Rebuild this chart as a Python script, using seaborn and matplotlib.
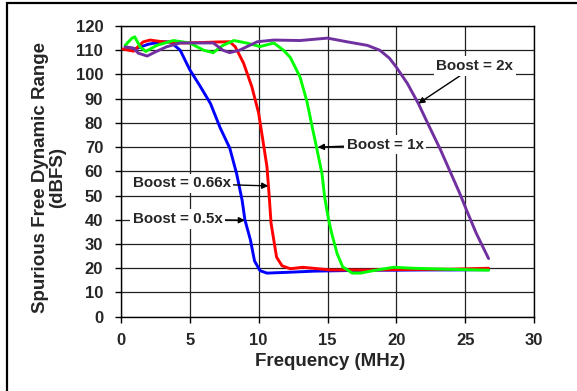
import matplotlib
matplotlib.use("Agg")
import matplotlib.pyplot as plt
from matplotlib.patches import Rectangle
import pandas as pd
import seaborn as sns

# Measured SFDR versus input frequency for each boost setting
freq_05 = [0.3, 1.0, 2.0, 3.0, 3.6, 4.3, 5.0, 5.7, 6.5, 7.2, 7.9, 8.4, 8.8, 9.0, 9.4, 9.7,
           10.1, 10.6, 12.0, 14.0, 16.0, 18.0, 20.0, 22.0, 24.0, 26.7]
sfdr_05 = [111.5, 110.5, 112.5, 113.5, 113.4, 110.0, 101.9, 95.6, 88.0, 78.0, 69.6, 59.0, 48.0,
           40.0, 31.7, 23.0, 19.0, 18.0, 18.3, 18.8, 19.0, 19.2, 19.2, 19.3, 19.3, 19.4]

freq_066 = [0.15, 0.9, 1.6, 2.1, 3.0, 4.5, 6.0, 7.0, 7.9, 8.3, 8.9, 9.5, 10.0, 10.3, 10.6,
            10.75, 10.9, 11.1, 11.3, 11.7, 12.3, 13.2, 15.2, 18.0, 21.0, 24.0, 26.7]
sfdr_066 = [110.5, 109.6, 113.4, 114.2, 113.5, 113.0, 113.2, 113.4, 113.5, 111.4, 104.7, 95.0,
            84.0, 73.0, 62.0, 51.0, 38.6, 31.6, 24.6, 21.0, 19.8, 20.4, 19.3, 19.3, 19.5, 19.6, 20.0]

freq_1 = [0.3, 0.8, 1.0, 1.4, 1.8, 2.6, 3.8, 5.0, 6.0, 6.7, 7.4, 8.2, 9.1, 10.1, 11.1, 11.8,
          12.3, 13.0, 13.5, 13.9, 14.2, 14.6, 14.8, 15.05, 15.3, 15.7, 16.1, 16.8, 17.4, 18.3,
          19.8, 21.2, 23.6, 26.7]
sfdr_1 = [112.0, 115.0, 115.5, 111.3, 109.5, 112.0, 114.0, 113.0, 110.0, 109.0, 112.0, 114.0,
          113.0, 111.5, 113.0, 110.0, 107.0, 99.0, 89.0, 78.0, 70.0, 59.0, 49.0, 41.0, 34.5,
          26.0, 20.6, 18.0, 18.0, 19.0, 20.4, 20.0, 19.6, 19.2]

freq_2 = [0.3, 0.9, 1.25, 1.9, 2.5, 3.3, 4.3, 5.7, 6.7, 7.4, 7.9, 8.6, 9.9, 11.1, 13.0, 15.0,
          16.4, 17.9, 18.8, 19.5, 20.0, 20.8, 21.6, 22.4, 23.2, 23.9, 24.6, 25.1, 25.8, 26.7]
sfdr_2 = [111.3, 110.9, 108.8, 107.6, 109.3, 111.4, 113.0, 113.0, 113.0, 110.0, 109.0, 110.0,
          113.5, 114.2, 114.0, 115.0, 113.5, 112.0, 110.0, 106.7, 103.0, 96.3, 88.0, 78.4,
          69.0, 60.0, 51.0, 44.0, 34.5, 24.0]

series_names = ["Boost = 0.5x", "Boost = 0.66x", "Boost = 1x", "Boost = 2x"]
series_colors = ["#0000FF", "#FF0000", "#00FF00", "#7030A0"]

x_ticks = [0, 5, 10, 15, 20, 25, 30]
y_ticks = list(range(0, 121, 10))

frames = []
for name, fx, fy in zip(series_names,
                        [freq_05, freq_066, freq_1, freq_2],
                        [sfdr_05, sfdr_066, sfdr_1, sfdr_2]):
    frames.append(pd.DataFrame({"Frequency": fx, "SFDR": fy, "Boost": name}))
df = pd.concat(frames, ignore_index=True)

sns.set_theme(style="white")
plt.rcParams["font.family"] = ["Liberation Sans", "DejaVu Sans"]
plt.rcParams["font.weight"] = "bold"

fig = plt.figure(figsize=(5.77, 3.91), dpi=100)
ax = fig.add_axes([121 / 577, 1 - 316.7 / 391, 413 / 577, 290.7 / 391])

# outer border around the whole figure (right and bottom edges run off the canvas)
fig.patches.append(Rectangle((6.5 / 577, -0.5), 2.0, 1.5 - 2.5 / 391,
                             transform=fig.transFigure, fill=False,
                             edgecolor="black", linewidth=1.6, clip_on=False))

sns.lineplot(data=df, x="Frequency", y="SFDR", hue="Boost", hue_order=series_names,
             palette=series_colors, linewidth=2.1, sort=False, legend=False,
             estimator=None, ax=ax, zorder=3)

ax.set_xlim(0, 30)
ax.set_ylim(0, 120)
ax.set_xticks(x_ticks)
ax.set_yticks(y_ticks)
ax.set_xticklabels([str(v) for v in x_ticks], fontsize=12, fontweight="bold")
ax.set_yticklabels([str(v) for v in y_ticks], fontsize=12, fontweight="bold")
ax.grid(True, color="#222222", linewidth=0.9)
ax.set_axisbelow(True)
for s in ax.spines.values():
    s.set_color("black")
    s.set_linewidth(1.0)
ax.tick_params(axis="x", direction="out", length=4, width=1, color="black", pad=8, bottom=True)
ax.tick_params(axis="y", direction="out", length=4.3, width=1, color="black", pad=8.5, left=True)

ax.set_xlabel("Frequency (MHz)", fontsize=13.5, fontweight="bold", labelpad=3, x=0.506)
ax.set_ylabel("Spurious Free Dynamic Range\n(dBFS)", fontsize=13.5, fontweight="bold",
              labelpad=7, linespacing=1.0, y=0.479)

box = dict(boxstyle="square,pad=0.18", facecolor="white", edgecolor="none")
arrow = dict(arrowstyle="-|>", color="black", lw=1.0, mutation_scale=9,
             shrinkA=0, shrinkB=0)
ax.annotate("Boost = 2x", xy=(21.6, 88), xytext=(25.7, 103.5), fontsize=10.9,
            fontweight="bold", ha="center", va="center", bbox=box, arrowprops=arrow)
ax.annotate("Boost = 1x", xy=(14.3, 70), xytext=(19.2, 71), fontsize=10.9,
            fontweight="bold", ha="center", va="center", bbox=box, arrowprops=arrow)
ax.annotate("Boost = 0.66x", xy=(10.7, 54), xytext=(4.4, 55), fontsize=10.9,
            fontweight="bold", ha="center", va="center", bbox=box, arrowprops=arrow)
ax.annotate("Boost = 0.5x", xy=(9.0, 39.8), xytext=(4.1, 40.3), fontsize=10.9,
            fontweight="bold", ha="center", va="center", bbox=box, arrowprops=arrow)

fig.savefig("out.png", dpi=100)
